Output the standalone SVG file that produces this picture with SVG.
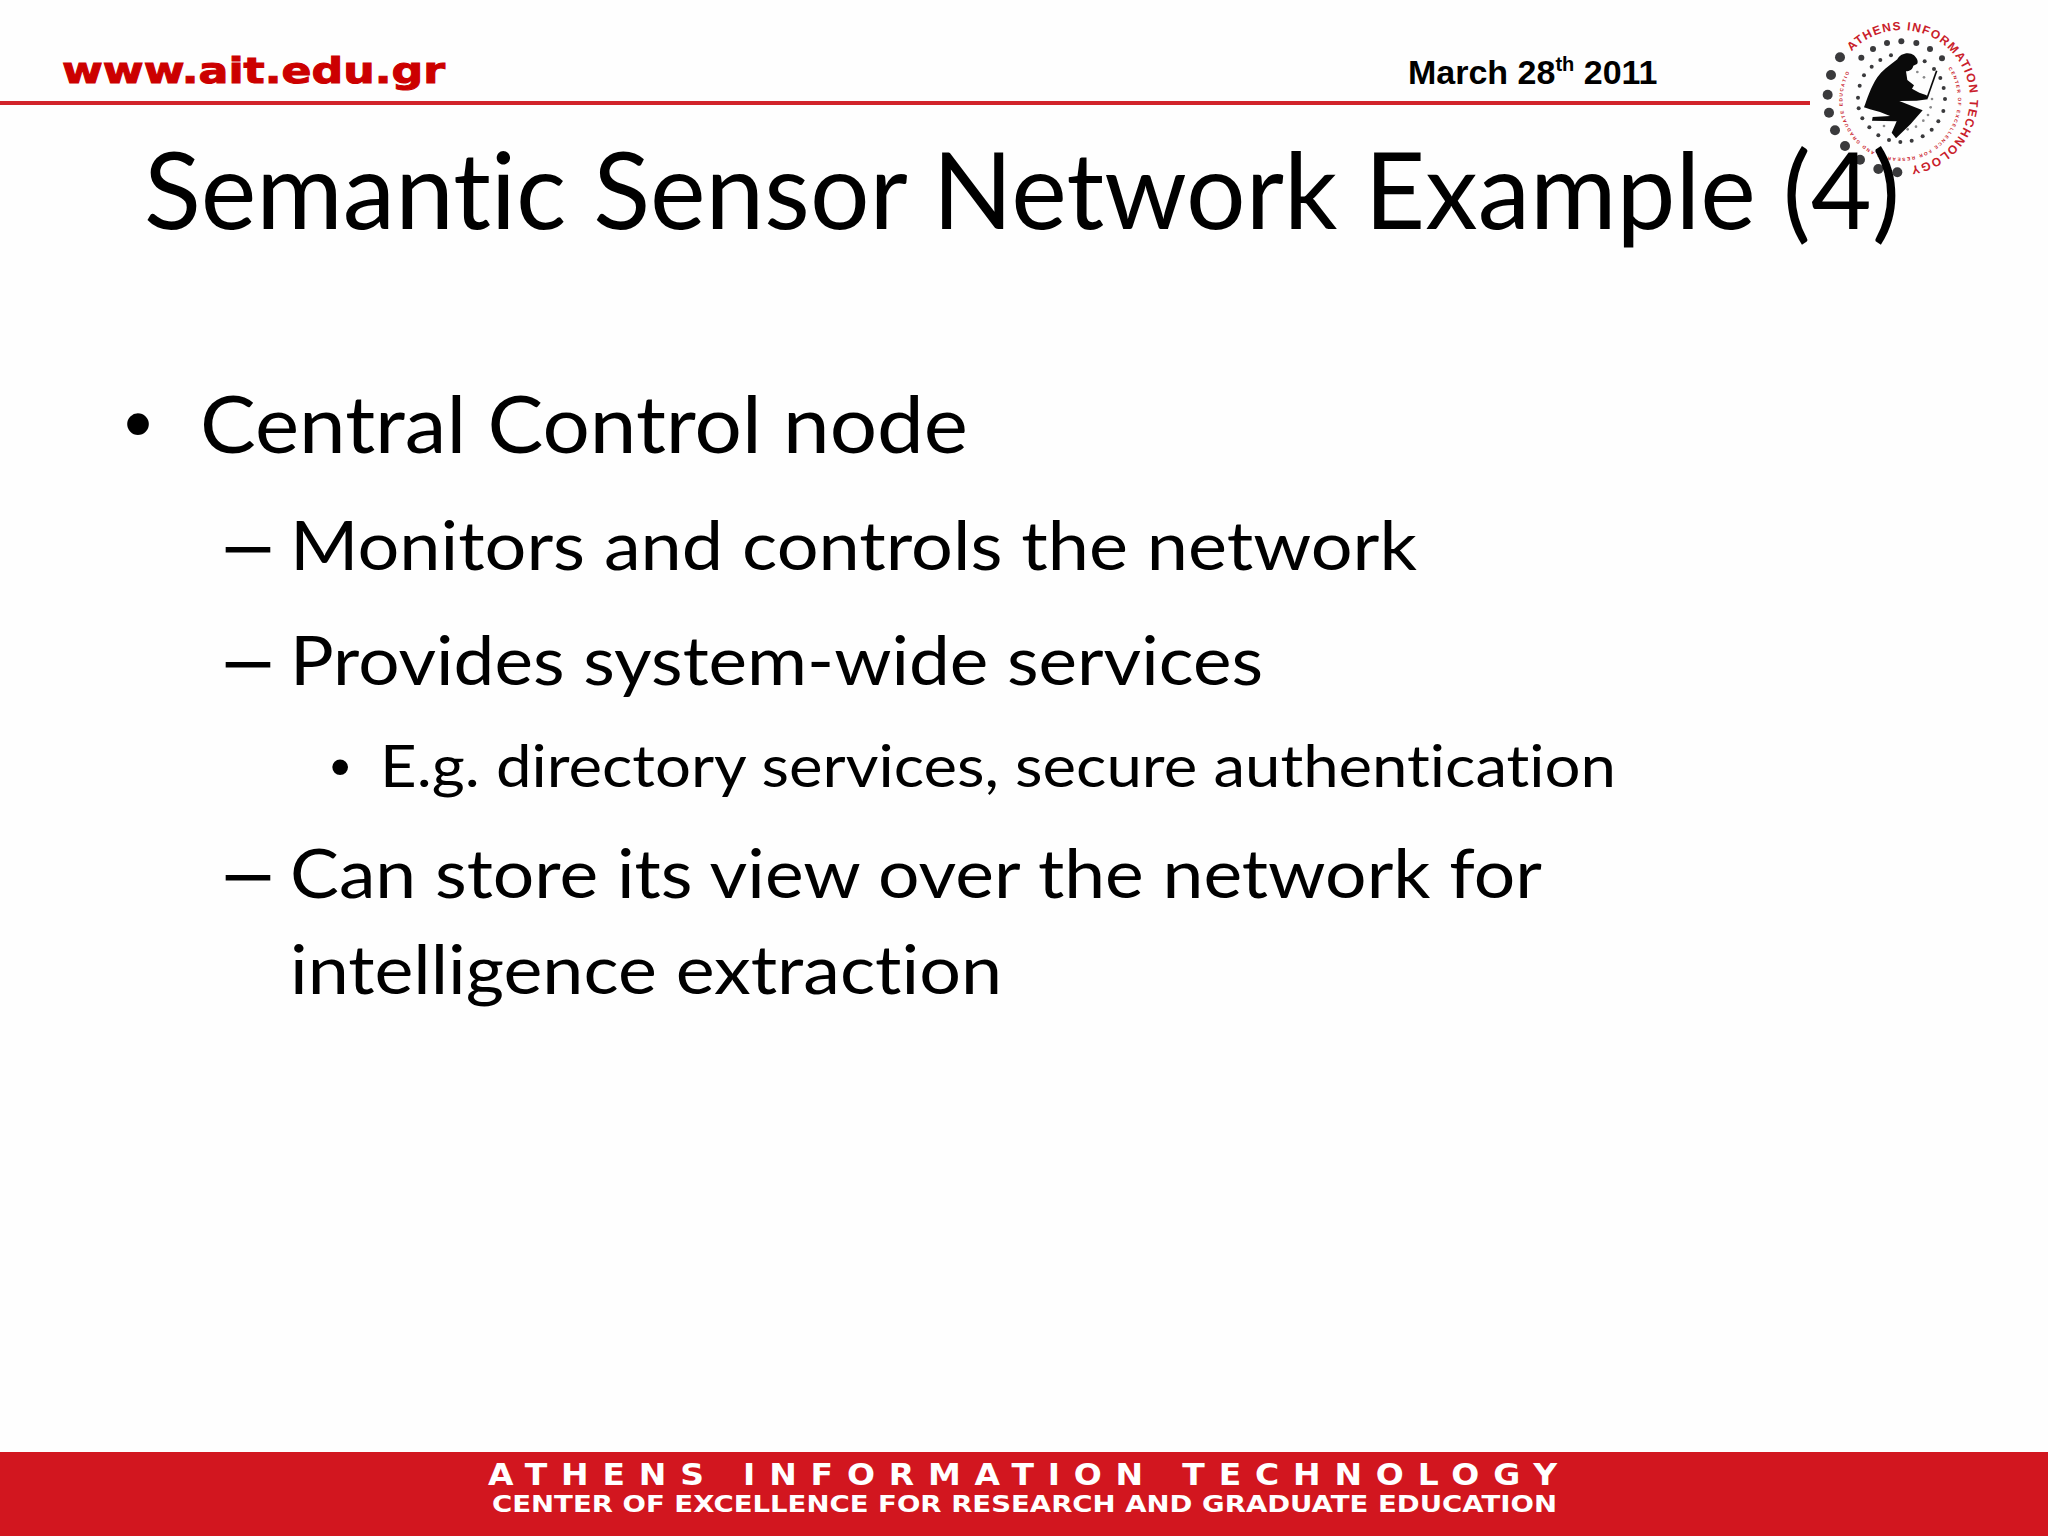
<svg xmlns="http://www.w3.org/2000/svg" width="2048" height="1536" viewBox="0 0 2048 1536">
<style>
.b{font-family:Lato,"Open Sans",sans-serif;fill:#000;font-variant-ligatures:none}
.t{font-size:106px}.l1{font-size:80px}.l2{font-size:68px}.l3{font-size:58px}
.p{font-family:"Liberation Sans",Arial,sans-serif;fill:#000}
.dash{stroke:#000;stroke-width:1.2}
.h{font-family:"Liberation Sans",Arial,sans-serif;font-weight:700}
.f{font-family:"DejaVu Sans",sans-serif;font-weight:700;fill:#fff}
.d1{fill:#3a3a3c}
</style>
<defs>
<path id="ringO" d="M215 155A205 205 0 1 1 375 500"/>
<path id="ringI" d="M505 205A173 173 0 1 1 212 212"/>
</defs>
<rect width="2048" height="1536" fill="#fefefe"/>
<g id="header">
<rect x="0" y="101" width="1810" height="4" fill="#d2232a"/>
<text class="f" style="fill:#cc0000" x="62" y="83" font-size="36" textLength="383" lengthAdjust="spacingAndGlyphs" stroke="#cc0000" stroke-width="1">www.ait.edu.gr</text>
<text class="h" x="1408" y="84" font-size="34" fill="#000">March 28<tspan font-size="20" dy="-13">th</tspan><tspan dy="13"> 2011</tspan></text>
</g>
<g id="logo" transform="translate(1780 0) scale(.33333)">
<g class="d1">
<circle cx="180" cy="172" r="15"/><circle cx="153" cy="225" r="15"/><circle cx="143" cy="284" r="15"/><circle cx="147" cy="338" r="15"/><circle cx="165" cy="391" r="15"/><circle cx="195" cy="438" r="15"/><circle cx="240" cy="479" r="15"/><circle cx="295" cy="507" r="15"/><circle cx="352" cy="517" r="15"/>
<circle cx="244" cy="173" r="9"/><circle cx="279" cy="147" r="9"/><circle cx="321" cy="129" r="9"/><circle cx="364" cy="124" r="9"/><circle cx="409" cy="129" r="9"/><circle cx="450" cy="147" r="9"/><circle cx="486" cy="175" r="9"/>
<circle cx="301" cy="180" r="6"/><circle cx="333" cy="166" r="6"/><circle cx="275" cy="200" r="6"/><circle cx="252" cy="226" r="6"/><circle cx="239" cy="257" r="6"/><circle cx="234" cy="293" r="6"/><circle cx="236" cy="325" r="6"/><circle cx="247" cy="355" r="6"/><circle cx="268" cy="382" r="6"/><circle cx="295" cy="406" r="6"/><circle cx="327" cy="420" r="6"/><circle cx="361" cy="426" r="6"/><circle cx="395" cy="422" r="6"/><circle cx="428" cy="409" r="6"/><circle cx="455" cy="389" r="6"/><circle cx="475" cy="364" r="6"/><circle cx="490" cy="333" r="6"/><circle cx="495" cy="297" r="6"/><circle cx="491" cy="264" r="6"/><circle cx="481" cy="234" r="6"/><circle cx="462" cy="207" r="6"/><circle cx="434" cy="184" r="6"/>
<circle cx="456" cy="297" r="4" opacity=".6"/><circle cx="452" cy="322" r="4" opacity=".6"/><circle cx="444" cy="345" r="4" opacity=".6"/><circle cx="430" cy="362" r="4" opacity=".6"/><circle cx="408" cy="380" r="4" opacity=".6"/><circle cx="383" cy="388" r="4" opacity=".6"/><circle cx="312" cy="378" r="4" opacity=".6"/><circle cx="432" cy="232" r="4" opacity=".6"/><circle cx="412" cy="216" r="4" opacity=".6"/>
</g>
<path fill="#0a0a0a" d="M352 178C360 160 388 154 402 166C412 175 416 187 411 192L400 197C398 208 388 214 378 214L382 240L402 256L396 266L418 278L440 286L443 298L410 302L358 303L405 322L428 331L392 372L348 415L335 398L350 364L276 362L278 351L330 348L300 336L270 328L252 322C262 296 272 262 292 232C306 212 326 198 352 178Z"/>
<path fill="none" stroke="#0a0a0a" stroke-width="5" d="M470 212L441 295"/>
<text font-family="'Liberation Sans',sans-serif" font-weight="700" font-size="36" fill="#c9202a" letter-spacing="4"><textPath href="#ringO">ATHENS INFORMATION TECHNOLOGY</textPath></text>
<text font-family="'Liberation Sans',sans-serif" font-weight="700" font-size="14" fill="#c9202a" letter-spacing="4.5"><textPath href="#ringI">CENTER OF EXCELLENCE FOR RESEARCH AND GRADUATE EDUCATION</textPath></text>
</g>
<g id="title">
<text class="b t" x="144" y="229" textLength="1756" lengthAdjust="spacingAndGlyphs">Semantic Sensor Network Example (4)</text>
</g>
<g id="body">
<text class="p l1" x="124" y="451">•</text>
<text class="b l1" x="200" y="453" textLength="768" lengthAdjust="spacingAndGlyphs">Central Control node</text>
<text class="b l2 dash" x="217" y="570" textLength="62" lengthAdjust="spacingAndGlyphs">–</text>
<text class="b l2" x="290" y="570" textLength="1127" lengthAdjust="spacingAndGlyphs">Monitors and controls the network</text>
<text class="b l2 dash" x="217" y="685" textLength="62" lengthAdjust="spacingAndGlyphs">–</text>
<text class="b l2" x="290" y="685" textLength="973" lengthAdjust="spacingAndGlyphs">Provides system-wide services</text>
<text class="p l3" x="330" y="786">•</text>
<text class="b l3" x="380" y="787" textLength="1236" lengthAdjust="spacingAndGlyphs">E.g. directory services, secure authentication</text>
<text class="b l2 dash" x="217" y="898" textLength="62" lengthAdjust="spacingAndGlyphs">–</text>
<text class="b l2" x="290" y="898" textLength="1252" lengthAdjust="spacingAndGlyphs">Can store its view over the network for</text>
<text class="b l2" x="290" y="994" textLength="712" lengthAdjust="spacingAndGlyphs">intelligence extraction</text>
</g>
<g id="footer">
<rect x="0" y="1452" width="2048" height="84" fill="#d2161f"/>
<text class="f" x="488" y="1485" font-size="31" letter-spacing="13" textLength="1083" lengthAdjust="spacingAndGlyphs">ATHENS INFORMATION TECHNOLOGY</text>
<text class="f" x="492" y="1512" font-size="23" textLength="1065" lengthAdjust="spacingAndGlyphs">CENTER OF EXCELLENCE FOR RESEARCH AND GRADUATE EDUCATION</text>
</g>
</svg>
